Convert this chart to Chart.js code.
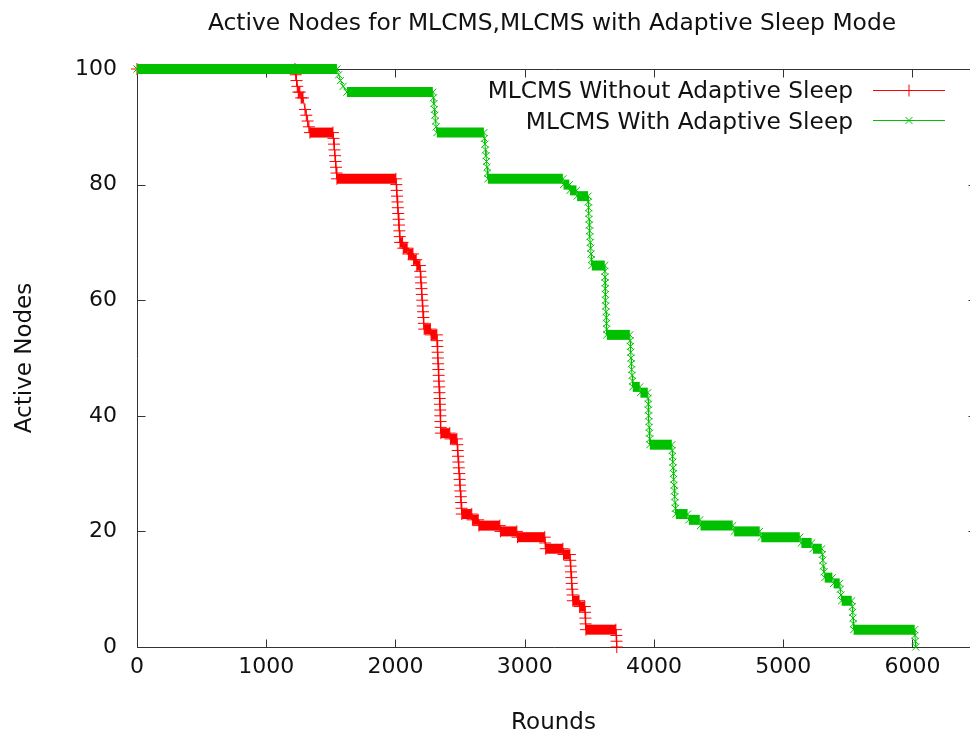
<!DOCTYPE html>
<html><head><meta charset="utf-8">
<script src="https://cdn.jsdelivr.net/npm/chart.js@4.4.1/dist/chart.umd.min.js"></script>
<style>html,body{margin:0;padding:0;background:#fff;overflow:hidden;}#wrap{width:970px;height:735px;}</style>
</head><body><div id="wrap"><canvas id="c" width="970" height="735"></canvas></div>
<script>
const chartTitle = 'Active Nodes for MLCMS,MLCMS with Adaptive Sleep Mode';
const xLabel = 'Rounds';
const yLabel = 'Active Nodes';
const seriesNames = ['MLCMS Without Adaptive Sleep', 'MLCMS With Adaptive Sleep'];
const xTicks = [0, 1000, 2000, 3000, 4000, 5000, 6000];
const yTicks = [0, 20, 40, 60, 80, 100];
const xMax = 6445;
const xFrameMax = 6490;

const redRounds = [0,1222,1228,1234,1240,1248,1260,1270,1284,1300,1310,1320,1330,1338,1516,
 1520,1524,1528,1532,1536,1540,1544,1547,2003,
 2006,2009,2012,2015,2018,2021,2024,2027,2030,2033,2035,
 2055,2060,2090,2100,2135,2140,2160,2165,2189,
 2192,2195,2198,2201,2204,2207,2210,2213,2216,2219,2222,
 2270,2275,2320,
 2322,2324,2326,2328,2330,2332,2334,2336,2338,2340,2342,2344,2346,2347,2348,2350,2351,
 2420,2425,2475,
 2478,2481,2484,2487,2490,2493,2496,2499,2502,2505,2508,2511,2513,
 2590,2595,2640,2645,2807,2812,2939,2944,3155,3158,3162,3295,3300,3349,
 3352,3355,3358,3361,3364,3367,3370,3372,
 3420,3425,3465,
 3467,3469,3471,3473,
 3705,3708,3710,3712];
const redNodes = [100,100,99,98,97,96,96,95,95,93,92,91,90,89,89,
 88,87,86,85,84,83,82,81,81,
 80,79,78,77,76,75,74,73,72,71,70,
 70,69,69,68,68,67,67,66,66,
 65,64,63,62,61,60,59,58,57,56,55,
 55,54,54,
 53,52,51,50,49,48,47,46,45,44,43,42,41,40,39,38,37,
 37,36,36,
 35,34,33,32,31,30,29,28,27,26,25,24,23,
 23,22,22,21,21,20,20,19,19,18,17,17,16,16,
 15,14,13,12,11,10,9,8,
 8,7,7,
 6,5,4,3,
 3,2,1,0];

const greenRounds = [0,1547,1560,1575,1595,1624,2289,
 2293,2297,2301,2305,2310,2315,2320,2684,
 2688,2692,2696,2700,2704,2708,2712,2715,3295,
 3300,3345,3350,3400,3405,3490,
 3492,3494,3496,3498,3500,3502,3504,3507,3510,3513,3516,3519,3619,
 3620,3621,3622,3623,3624,3625,3627,3629,3631,3633,3634,3635,3813,
 3815,3818,3820,3823,3825,3828,3831,3834,3836,3890,3895,3952,
 3954,3956,3957,3959,3961,3963,3965,3967,3968,4138,
 4141,4143,4146,4148,4151,4153,4156,4158,4161,4163,4166,4169,
 4260,4270,4354,4360,4609,4620,4818,4830,5128,5140,5220,5230,5298,
 5302,5306,5310,5315,5321,5380,5390,5437,
 5442,5447,5452,5530,
 5534,5537,5540,5543,5545,6017,
 6019,6022,6025];
const greenNodes = [100,100,99,98,97,96,96,
 95,94,93,92,91,90,89,89,
 88,87,86,85,84,83,82,81,81,
 80,80,79,79,78,78,
 77,76,75,74,73,72,71,70,69,68,67,66,66,
 65,64,63,62,61,60,59,58,57,56,55,54,54,
 53,52,51,50,49,48,47,46,45,45,44,44,
 43,42,41,40,39,38,37,36,35,35,
 34,33,32,31,30,29,28,27,26,25,24,23,
 23,22,22,21,21,20,20,19,19,18,18,17,17,
 16,15,14,13,12,12,11,11,
 10,9,8,8,
 7,6,5,4,3,3,
 2,1,0];

const FONT = '"DejaVu Sans", "Liberation Sans", sans-serif';
const TEXT = '#111111';
const AXIS = '#333333';
const RED = '#ff0000';
const GREEN = '#00c000';

const toPts = (xs, ys) => xs.map((v, i) => ({x: v, y: ys[i]}));
const bandWidth = c => (c.p0.parsed.y === c.p1.parsed.y ? 10 : 1);

const gnuPlugin = {
  id: 'gnu',
  beforeDatasetsDraw(chart) {
    const {ctx, chartArea: a, scales: {x, y}} = chart;
    ctx.save();
    ctx.strokeStyle = AXIS;
    ctx.lineWidth = 1;
    const L = Math.round(a.left) + 0.5, T = Math.round(a.top) + 0.5, B = Math.round(a.bottom) + 0.5;
    const R = Math.round(x.getPixelForValue(xFrameMax)) + 0.5;
    ctx.beginPath();
    ctx.moveTo(R, T); ctx.lineTo(L, T); ctx.lineTo(L, B); ctx.lineTo(R, B); ctx.lineTo(R, T);
    ctx.stroke();
    ctx.beginPath();
    xTicks.forEach(v => {
      const px = Math.round(x.getPixelForValue(v)) + 0.5;
      ctx.moveTo(px, B); ctx.lineTo(px, B - 8);
      ctx.moveTo(px, T); ctx.lineTo(px, T + 8);
    });
    yTicks.forEach(v => {
      const py = Math.round(y.getPixelForValue(v)) + 0.5;
      ctx.moveTo(L, py); ctx.lineTo(L + 8, py);
      ctx.moveTo(R, py); ctx.lineTo(R - 8, py);
    });
    ctx.stroke();
    ctx.restore();
  },
  afterDraw(chart) {
    const {ctx} = chart;
    ctx.save();
    ctx.fillStyle = TEXT;
    ctx.font = '23.4px ' + FONT;
    ctx.textAlign = 'center';
    ctx.textBaseline = 'alphabetic';
    ctx.fillText(chartTitle, 552, 30);
    ctx.font = '23.3px ' + FONT;
    const rows = [
      {text: seriesNames[0], color: RED, style: 'cross', r: 6, y: 90.5, base: 97.5},
      {text: seriesNames[1], color: GREEN, style: 'crossRot', r: 5, y: 120.5, base: 128.5}
    ];
    rows.forEach(rw => {
      ctx.fillStyle = TEXT;
      ctx.textAlign = 'right';
      ctx.fillText(rw.text, 853, rw.base);
      ctx.strokeStyle = rw.color;
      ctx.lineWidth = 1;
      ctx.beginPath(); ctx.moveTo(873, rw.y); ctx.lineTo(945, rw.y); ctx.stroke();
      ctx.fillStyle = rw.color;
      Chart.helpers.drawPoint(ctx, {pointStyle: rw.style, radius: rw.r, rotation: 0, borderWidth: 1}, 909, rw.y);
    });
    ctx.restore();
  }
};

new Chart(document.getElementById('c'), {
  type: 'line',
  data: {
    datasets: [
      {
        label: seriesNames[0], data: toPts(redRounds, redNodes),
        borderColor: RED, backgroundColor: RED, borderWidth: 1, fill: false, tension: 0,
        pointStyle: 'cross', pointRadius: 6, pointBorderWidth: 1, pointBorderColor: RED, pointBackgroundColor: RED,
        clip: false, order: 1, segment: {borderWidth: bandWidth}
      },
      {
        label: seriesNames[1], data: toPts(greenRounds, greenNodes),
        borderColor: GREEN, backgroundColor: GREEN, borderWidth: 1, fill: false, tension: 0,
        pointStyle: 'crossRot', pointRadius: 5, pointBorderWidth: 1, pointBorderColor: GREEN, pointBackgroundColor: GREEN,
        clip: false, order: 0, segment: {borderWidth: bandWidth}
      }
    ]
  },
  options: {
    responsive: false, animation: false, devicePixelRatio: 1,
    layout: {autoPadding: false, padding: {top: 69, right: 0, bottom: 0, left: 0}},
    plugins: {legend: {display: false}, tooltip: {enabled: false}, title: {display: false}},
    elements: {line: {borderJoinStyle: 'miter'}},
    scales: {
      x: {
        type: 'linear', min: 0, max: xMax,
        afterBuildTicks: s => { s.ticks = xTicks.map(v => ({value: v})); },
        afterFit: s => { s.height = 88; s.paddingLeft = 0; s.paddingRight = 0; },
        grid: {display: false, drawTicks: false},
        border: {display: false},
        ticks: {font: {family: FONT, size: 22}, color: TEXT, padding: 7, maxRotation: 0, autoSkip: false, callback: v => String(v)},
        title: {display: true, text: xLabel, font: {family: FONT, size: 23}, color: TEXT, padding: {top: 0, bottom: -2}}
      },
      y: {
        type: 'linear', min: 0, max: 100,
        afterBuildTicks: s => { s.ticks = yTicks.map(v => ({value: v})); },
        afterFit: s => { s.width = 137; },
        grid: {display: false, drawTicks: false},
        border: {display: false},
        ticks: {font: {family: FONT, size: 22}, color: TEXT, padding: 20, callback: v => String(v)},
        title: {display: true, text: yLabel, font: {family: FONT, size: 23}, color: TEXT, padding: {top: 11, bottom: 0}}
      }
    }
  },
  plugins: [gnuPlugin]
});
</script>
</body></html>
